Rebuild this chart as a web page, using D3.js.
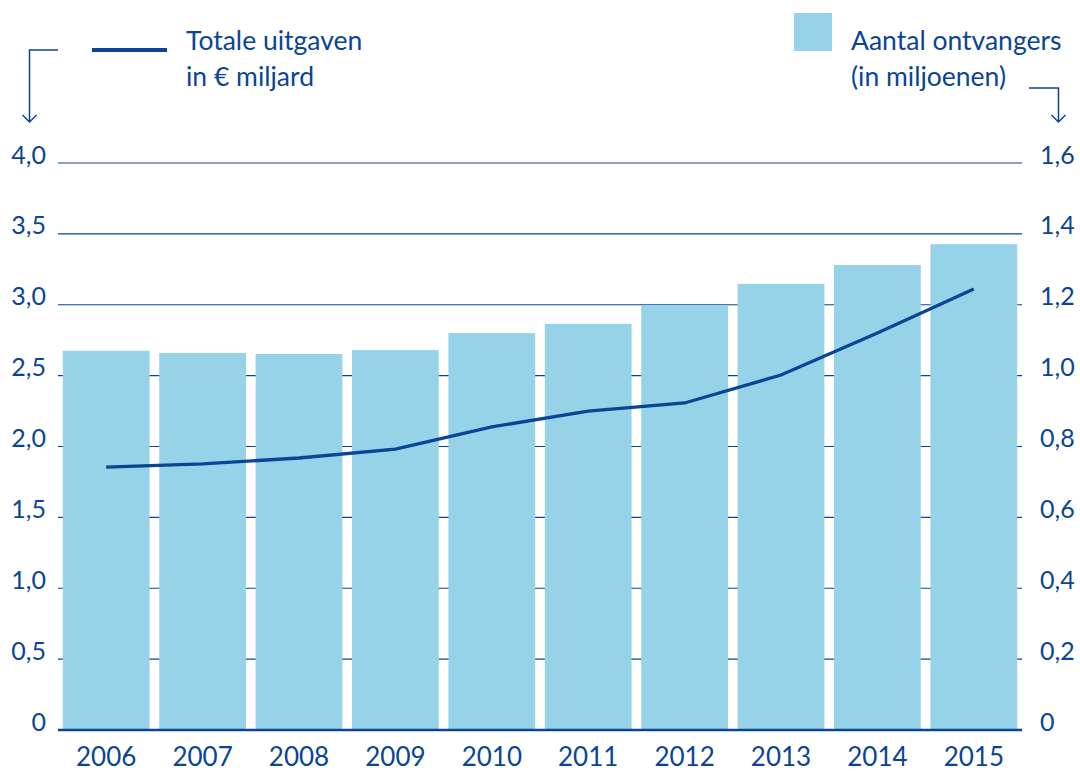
<!DOCTYPE html>
<html><head><meta charset="utf-8">
<script src="https://cdn.jsdelivr.net/npm/d3@7"></script>
<style>
html,body{margin:0;padding:0;background:#fff;}
svg{display:block;font-family:Lato,"Open Sans",sans-serif;}
</style></head>
<body>
<svg id="c" width="1080" height="771"></svg>
<script>
const years = ["2006","2007","2008","2009","2010","2011","2012","2013","2014","2015"];
const recipients = [1.070,1.064,1.061,1.072,1.120,1.146,1.199,1.259,1.312,1.371]; // miljoenen (right axis)
const spending = [1.855,1.877,1.919,1.982,2.138,2.250,2.307,2.504,2.801,3.111]; // € miljard (left axis)
const leftTicks = [0,0.5,1,1.5,2,2.5,3,3.5,4];
const rightTicks = [0,0.2,0.4,0.6,0.8,1.0,1.2,1.4,1.6];
const legendLine = ["Totale uitgaven","in € miljard"];
const legendBar = ["Aantal ontvangers","(in miljoenen)"];

const dark = "#0a4595", light = "#96d3e8";
const svg = d3.select("#c");
const L = 58, R = 1022, T = 163, B = 730;

const x = d3.scaleBand().domain(years).range([L,R]).paddingInner(0.1).paddingOuter(0.05);
const yL = d3.scaleLinear().domain([0,4]).range([B,T]);
const yR = d3.scaleLinear().domain([0,1.6]).range([B,T]);
const fmt = d => d===0 ? "0" : d3.format(".1f")(d).replace(".",",");

// gridlines
svg.append("g").selectAll("line").data(leftTicks.filter(d=>d>0)).join("line")
  .attr("x1",L).attr("x2",R).attr("y1",d=>yL(d)).attr("y2",d=>yL(d))
  .attr("stroke",dark).attr("stroke-width",1.2);

// bars
svg.append("g").selectAll("rect").data(years).join("rect")
  .attr("x",d=>x(d)).attr("width",x.bandwidth())
  .attr("y",(d,i)=>yR(recipients[i])).attr("height",(d,i)=>B-yR(recipients[i]))
  .attr("fill",light);

// baseline
svg.append("line").attr("x1",L).attr("x2",R).attr("y1",B).attr("y2",B)
  .attr("stroke",dark).attr("stroke-width",2.5);

// line
const line = d3.line().x((d,i)=>x(years[i])+x.bandwidth()/2).y(d=>yL(d));
svg.append("path").datum(spending).attr("d",line).attr("fill","none")
  .attr("stroke",dark).attr("stroke-width",3.3);

// axes using d3 axis generators, styled
const axL = d3.axisLeft(yL).tickValues(leftTicks).tickFormat(fmt).tickSize(0).tickPadding(0);
const gL = svg.append("g").attr("transform",`translate(46,0)`).call(axL);
const axR = d3.axisRight(yR).tickValues(rightTicks).tickFormat(fmt).tickSize(0).tickPadding(0);
const gR = svg.append("g").attr("transform",`translate(1040,0)`).call(axR);
const axB = d3.axisBottom(x).tickSize(0).tickPadding(0);
const gB = svg.append("g").attr("transform",`translate(0,${B})`).call(axB);
[gL,gR,gB].forEach(g=>{
  g.select(".domain").remove();
  g.selectAll("text").attr("fill",dark).style("font-size","25px").attr("font-family","Lato,'Open Sans',sans-serif");
});
gL.selectAll("text").attr("dy","0").attr("y",0);
gR.selectAll("text").attr("dy","0").attr("y",0);
gB.selectAll("text").attr("dy","0").attr("y",36).style("font-size","26px");

// legend: line
svg.append("line").attr("x1",92).attr("x2",167).attr("y1",50).attr("y2",50)
  .attr("stroke",dark).attr("stroke-width",4);
svg.append("g").selectAll("text").data(legendLine).join("text")
  .attr("x",186).attr("y",(d,i)=>50+i*36).text(d=>d)
  .attr("fill",dark).style("font-size","26.5px");
// legend: bar
svg.append("rect").attr("x",794).attr("y",13).attr("width",38).attr("height",38).attr("fill",light);
svg.append("g").selectAll("text").data(legendBar).join("text")
  .attr("x",851).attr("y",(d,i)=>50+i*36).text(d=>d)
  .attr("fill",dark).style("font-size","26.5px");

// bracket arrows
const arrowStyle = s => s.attr("fill","none").attr("stroke",dark).attr("stroke-width",1.5);
svg.append("path").attr("d","M58,50 H29.5 V122 M22.5,115 L29.5,122 L36.5,115").call(arrowStyle);
svg.append("path").attr("d","M1029,88 H1058.5 V122 M1051.5,115 L1058.5,122 L1065.5,115").call(arrowStyle);
</script>
</body></html>
